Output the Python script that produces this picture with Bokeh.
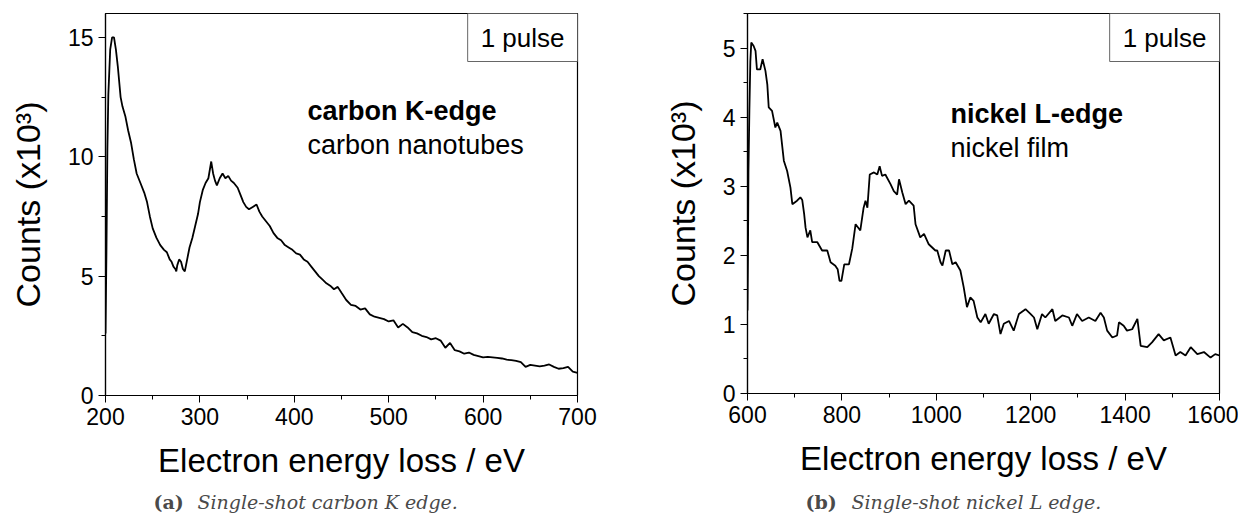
from bokeh.plotting import figure
from bokeh.layouts import row, column
from bokeh.models import Label, Range1d, SingleIntervalTicker
from bokeh.embed import file_html
from bokeh.resources import INLINE

# ---- data: carbon K-edge (panel a) ----
carbon_energy = [200, 201, 202, 203, 205, 207, 209, 211, 213, 216, 218, 221, 224, 227, 230, 233, 237, 241, 244,
                 247, 250, 254, 258, 262, 265, 268, 270, 272, 274, 275, 276, 278, 280, 282, 284, 286, 289, 292,
                 295, 298, 300, 303, 306, 309, 312, 314, 316, 318, 321, 324, 327, 330, 333, 336, 340, 343, 346,
                 349, 352, 356, 360, 363, 366, 370, 374, 378, 382, 386, 390, 394, 398, 402, 406, 410, 414, 418,
                 422, 426, 430, 434, 438, 442, 446, 450, 455, 460, 465, 470, 475, 480, 485, 490, 495, 500, 505,
                 510, 515, 520, 525, 530, 535, 540, 545, 550, 555, 560, 565, 570, 575, 580, 585, 590, 595, 600,
                 605, 610, 615, 620, 625, 630, 635, 640, 645, 650, 655, 660, 665, 670, 675, 680, 685, 690, 695, 700]
carbon_counts = [2.6, 6.0, 10.3, 12.6, 14.5, 15.0, 15.0, 14.5, 13.8, 12.5, 12.1, 11.7, 11.1, 10.6, 9.9, 9.3, 8.9,
                 8.5, 8.1, 7.5, 7.0, 6.6, 6.3, 6.1, 6.0, 5.7, 5.6, 5.4, 5.3, 5.2, 5.45, 5.7, 5.6, 5.3, 5.2, 5.6,
                 6.2, 6.6, 7.1, 7.6, 8.1, 8.6, 8.9, 9.1, 9.8, 9.3, 9.0, 8.8, 9.1, 9.3, 9.1, 9.2, 9.0, 8.9, 8.7,
                 8.4, 8.1, 7.9, 7.8, 7.9, 8.0, 7.7, 7.5, 7.3, 7.1, 6.8, 6.6, 6.5, 6.3, 6.2, 6.1, 5.95, 5.9, 5.7,
                 5.6, 5.4, 5.2, 5.0, 4.85, 4.7, 4.6, 4.45, 4.55, 4.3, 4.0, 3.8, 3.75, 3.6, 3.65, 3.4, 3.3, 3.25,
                 3.2, 3.1, 3.15, 2.85, 3.0, 2.85, 2.65, 2.6, 2.5, 2.45, 2.35, 2.4, 2.3, 2.0, 2.2, 1.9, 1.85, 1.75,
                 1.8, 1.7, 1.65, 1.6, 1.62, 1.6, 1.58, 1.55, 1.5, 1.48, 1.45, 1.4, 1.2, 1.28, 1.25, 1.22, 1.25,
                 1.3, 1.2, 1.12, 1.15, 1.2, 1.0, 0.95]

# ---- data: nickel L-edge (panel b) ----
nickel_energy = [600, 601, 602, 604, 606, 608, 613, 617, 620, 627, 632, 638, 642, 645, 652, 659, 663, 670, 677,
                 684, 691, 695, 705, 712, 716, 720, 723, 727, 733, 737, 748, 758, 769, 776, 786, 791, 795, 799,
                 805, 815, 822, 829, 839, 846, 850, 854, 859, 868, 875, 880, 885, 892, 903, 910, 917, 921, 928,
                 935, 942, 952, 956, 966, 974, 984, 998, 1002, 1009, 1013, 1020, 1027, 1034, 1041, 1051, 1058,
                 1065, 1072, 1079, 1087, 1094, 1104, 1111, 1122, 1129, 1136, 1143, 1154, 1164, 1175, 1189, 1200,
                 1207, 1214, 1224, 1231, 1246, 1252, 1267, 1281, 1288, 1298, 1309, 1323, 1337, 1348, 1355, 1362,
                 1373, 1383, 1387, 1397, 1404, 1415, 1426, 1433, 1447, 1457, 1471, 1482, 1496, 1507, 1517, 1528,
                 1539, 1553, 1567, 1581, 1591, 1600]
nickel_counts = [1.2, 2.0, 3.2, 4.1, 4.8, 5.08, 5.03, 4.96, 4.69, 4.69, 4.84, 4.67, 4.47, 4.14, 4.09, 3.85, 3.92,
                 3.8, 3.37, 3.22, 2.98, 2.74, 2.79, 2.84, 2.8, 2.6, 2.4, 2.26, 2.36, 2.19, 2.19, 2.07, 2.07, 1.9,
                 1.85, 1.8, 1.63, 1.63, 1.87, 1.87, 2.1, 2.45, 2.36, 2.69, 2.79, 2.69, 3.17, 3.2, 3.17, 3.29,
                 3.15, 3.17, 3.03, 2.93, 2.88, 3.1, 2.91, 2.74, 2.79, 2.72, 2.45, 2.26, 2.31, 2.16, 2.07, 2.07,
                 1.9, 1.85, 2.07, 2.07, 1.87, 1.9, 1.78, 1.54, 1.25, 1.39, 1.34, 1.1, 1.03, 1.15, 1.01, 1.15,
                 1.13, 0.86, 1.01, 1.05, 0.91, 1.15, 1.22, 1.15, 1.1, 0.93, 1.15, 1.1, 1.22, 1.05, 1.13, 1.1,
                 0.98, 1.15, 1.05, 1.1, 1.05, 1.17, 1.1, 0.91, 0.81, 0.84, 1.03, 0.98, 0.91, 0.93, 1.08, 0.69,
                 0.67, 0.74, 0.86, 0.77, 0.81, 0.55, 0.6, 0.55, 0.67, 0.57, 0.6, 0.52, 0.57, 0.55]

x_label = "Electron energy loss / eV"
y_label = "Counts (x10\u00b3)"
pulse_text = "1 pulse"
titles_a = ["carbon K-edge", "carbon nanotubes"]
titles_b = ["nickel L-edge", "nickel film"]
caption_a = ["(a)", "Single-shot carbon K edge."]
caption_b = ["(b)", "Single-shot nickel L edge."]

SANS = "Liberation Sans"
SERIF = "DejaVu Serif"
MAIN_H = 485
CAP_H = 29


def make_panel(xs, ys, xr, yr, xint, yint, left_border, right_border, top_border, frame_h,
               titles, title_pos):
    p = figure(frame_width=472, frame_height=frame_h, output_backend="svg", toolbar_location=None,
               x_range=Range1d(*xr), y_range=Range1d(*yr),
               min_border_left=left_border, min_border_right=right_border,
               min_border_top=top_border, min_border_bottom=MAIN_H - top_border - frame_h)
    p.background_fill_color = "white"
    p.border_fill_color = "white"
    p.outline_line_color = "black"
    p.outline_line_width = 1.2
    p.grid.visible = False
    p.line(xs, ys, line_color="black", line_width=1.8)

    p.xaxis.ticker = SingleIntervalTicker(interval=xint, num_minor_ticks=2)
    p.yaxis.ticker = SingleIntervalTicker(interval=yint, num_minor_ticks=2)
    for ax in (p.xaxis[0], p.yaxis[0]):
        ax.axis_line_color = "black"
        ax.axis_line_width = 1.2
        ax.major_tick_line_color = "black"
        ax.minor_tick_line_color = "black"
        ax.major_tick_out = 7
        ax.major_tick_in = 0
        ax.minor_tick_out = 4
        ax.minor_tick_in = 0
        ax.major_label_text_font = SANS
        ax.major_label_text_font_size = "23px"
        ax.major_label_text_color = "black"
        ax.axis_label_text_font = SANS
        ax.axis_label_text_font_style = "normal"
        ax.axis_label_text_color = "black"
    p.xaxis.axis_label_text_font_size = "33px"
    p.yaxis.axis_label_text_font_size = "34px"
    p.xaxis.axis_label = x_label
    p.yaxis.axis_label = y_label
    p.xaxis.major_label_standoff = 5
    p.yaxis.major_label_standoff = 5
    p.xaxis.axis_label_standoff = 14
    p.yaxis.axis_label_standoff = 18

    # "1 pulse" box in the top-right corner
    p.add_layout(Label(x=xr[1], y=yr[1], text=pulse_text, anchor="top_right",
                       text_font=SANS, text_font_size="26px", text_color="black",
                       border_line_color="#666666", border_line_width=1,
                       background_fill_color="white",
                       padding=dict(left=13, right=13, top=9, bottom=9)))
    # sample description
    tx, ty1, ty2 = title_pos
    p.add_layout(Label(x=tx, y=ty1, text=titles[0], text_font=SANS, text_font_size="27px",
                       text_font_style="bold", text_color="black"))
    p.add_layout(Label(x=tx, y=ty2, text=titles[1], text_font=SANS, text_font_size="27px",
                       text_color="black"))
    return p


def make_caption(width, caption, x1, x2):
    c = figure(width=width, height=CAP_H, output_backend="svg", toolbar_location=None,
               x_range=Range1d(0, width), y_range=Range1d(0, CAP_H),
               x_axis_location=None, y_axis_location=None, min_border=0)
    c.outline_line_color = None
    c.grid.visible = False
    c.border_fill_color = "white"
    c.add_layout(Label(x=x1, y=2, text=caption[0], text_font=SERIF, text_font_size="19px",
                       text_font_style="bold", text_color="#4a4a4a"))
    c.add_layout(Label(x=x2, y=2, text=caption[1], text_font=SERIF, text_font_size="19px",
                       text_font_style="italic", text_color="#4a4a4a"))
    return c


pa = make_panel(carbon_energy, carbon_counts, (200, 700), (0, 16), 100, 5,
                105, 43, 11, 382, titles_a, (414, 11.27, 9.88))
pb = make_panel(nickel_energy, nickel_counts, (600, 1600), (0, 5.5), 200, 1,
                127, 19, 13, 380, titles_b, (1030, 3.83, 3.34))
ca = make_caption(620, caption_a, 153, 197)
cb = make_caption(618, caption_b, 185, 231)

layout = column(row(pa, pb), row(ca, cb))
open("out.html", "w").write(file_html(layout, INLINE))
